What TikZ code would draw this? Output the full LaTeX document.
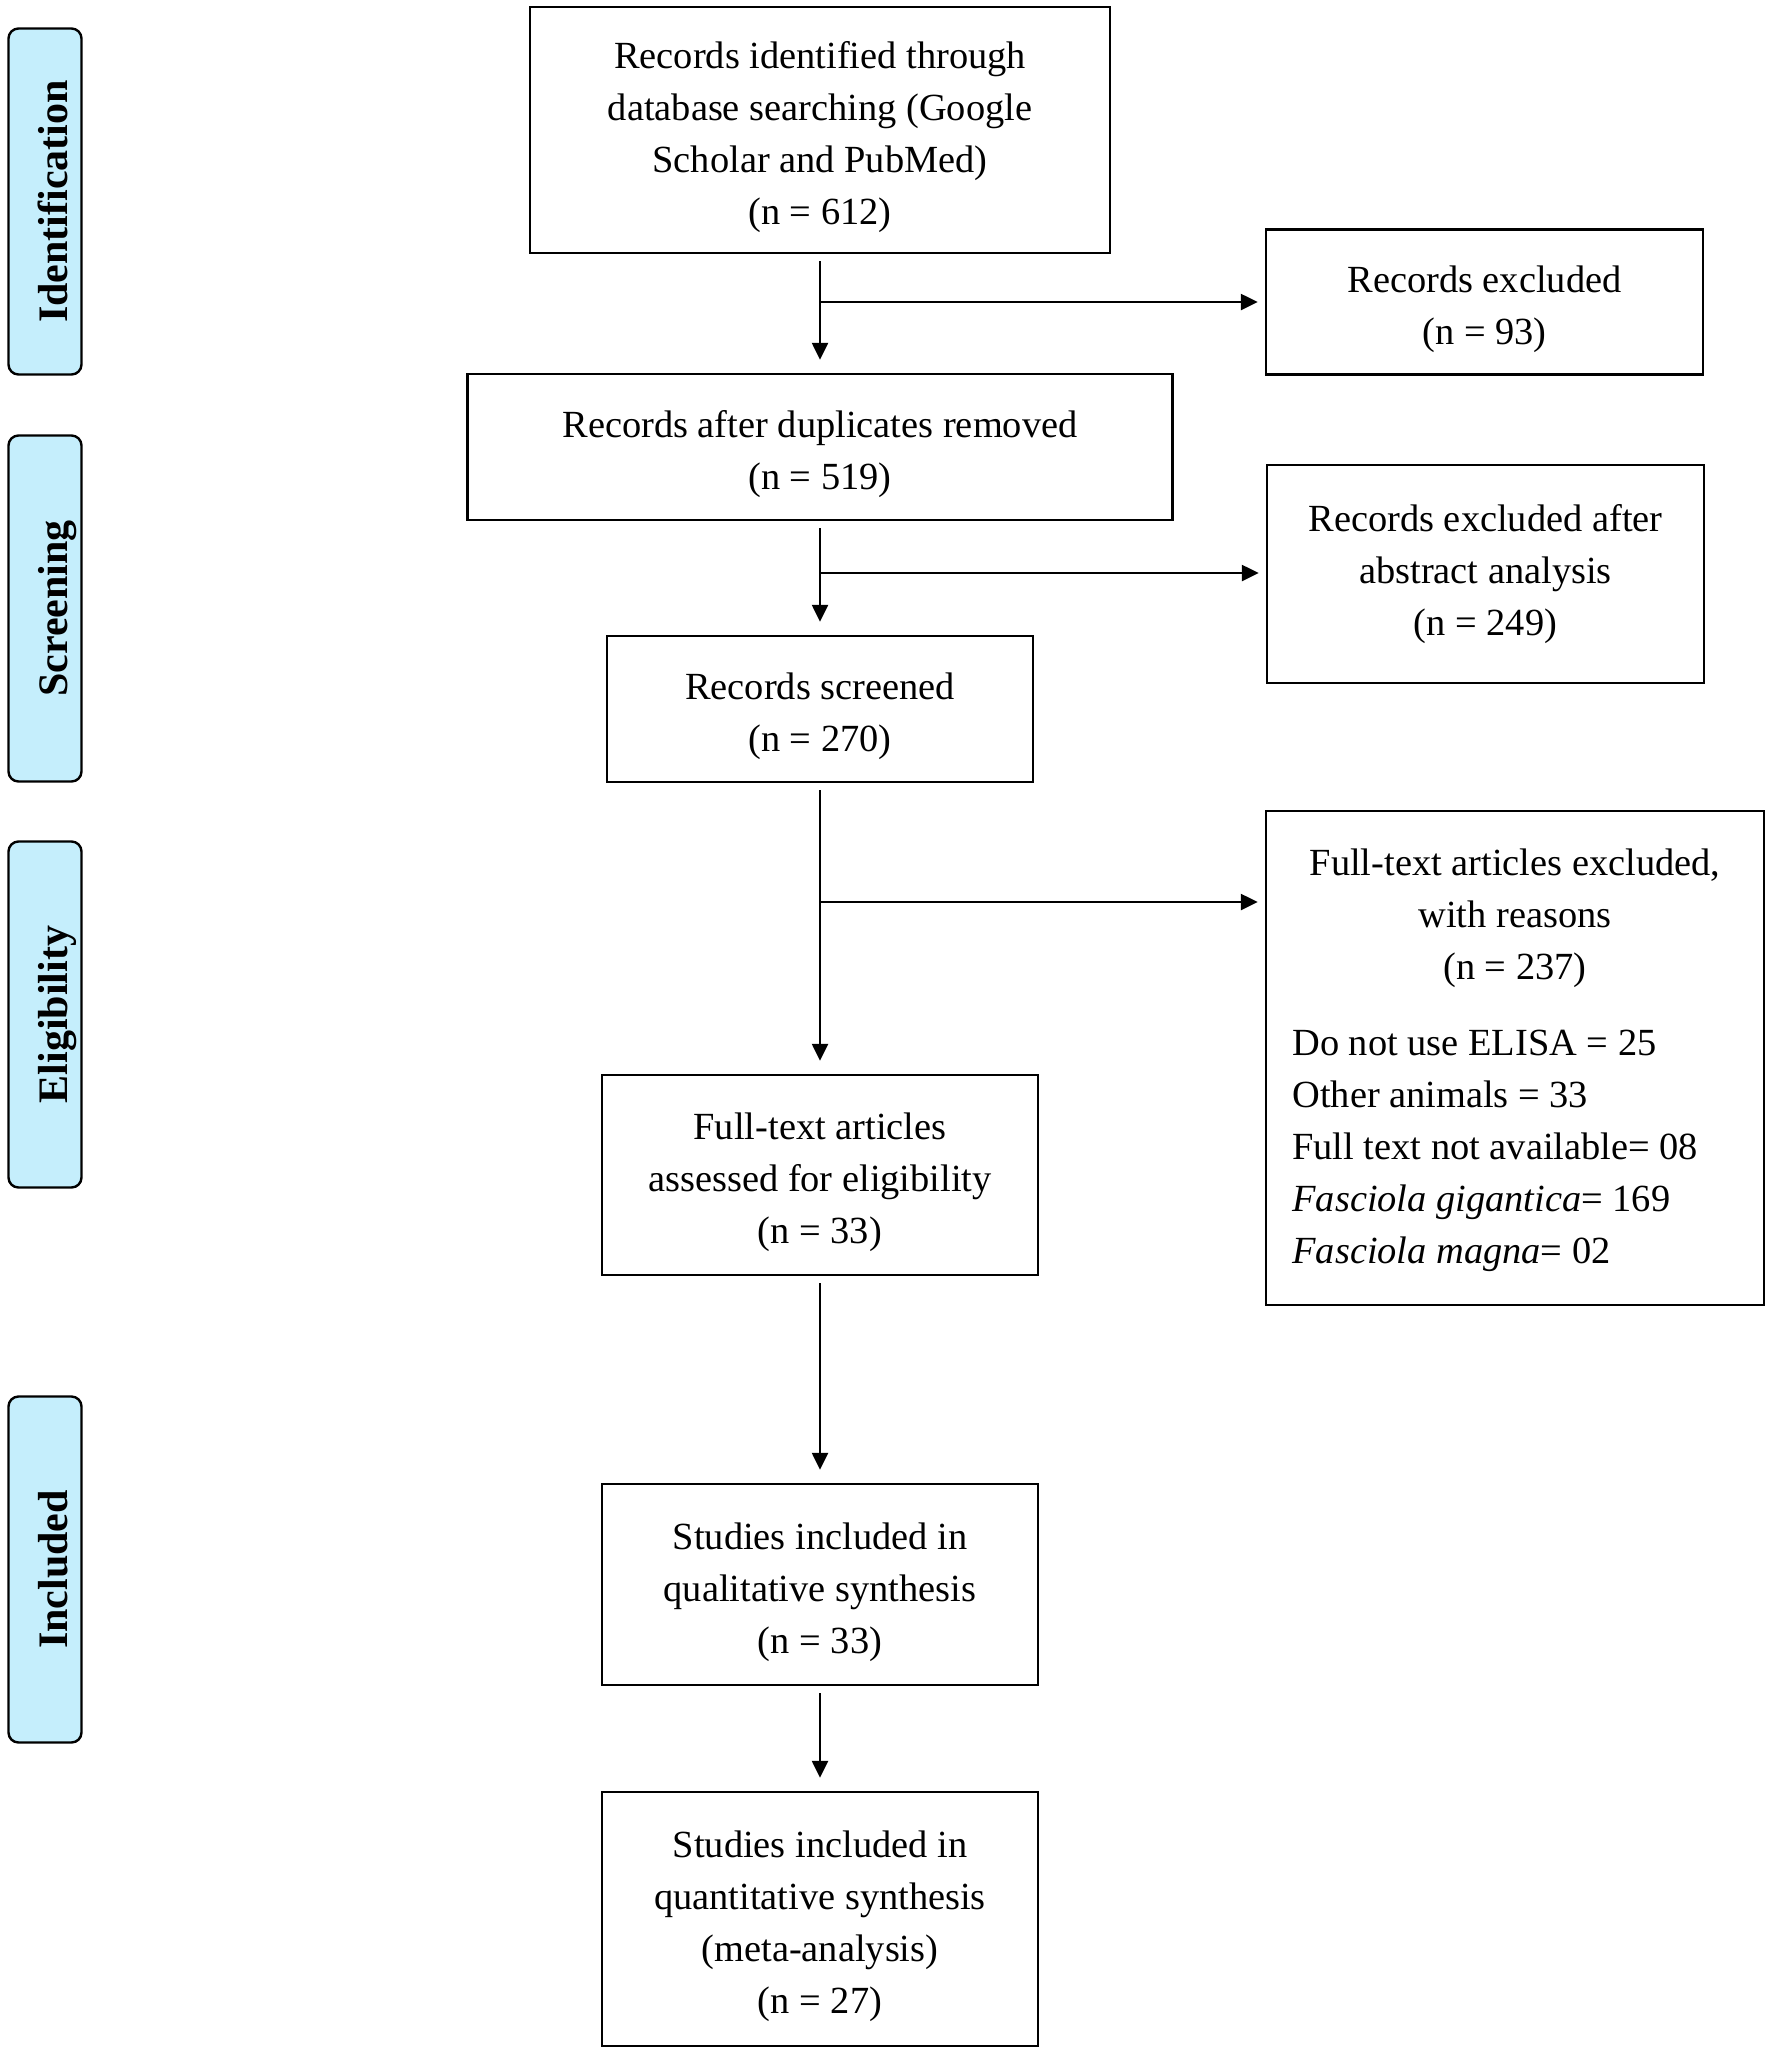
\documentclass[tikz,border=0pt]{standalone}
\usepackage{fontspec}
\setmainfont{Liberation Serif}
\usetikzlibrary{arrows.meta}
\definecolor{lblue}{RGB}{197,238,252}
\newcommand\txtfont{\fontsize{19.2}{26}\selectfont}
\newcommand\labfont{\fontsize{21}{23}\selectfont\bfseries}
\newcommand\tfix{\rule{0pt}{21pt}}
\begin{document}
\begin{tikzpicture}[x=0.5pt,y=-0.5pt,
  box/.style={draw, line width=1.2pt, inner sep=0pt, align=center, font=\txtfont},
  txt/.style={inner sep=0pt, font=\txtfont},
  lab/.style={draw, line width=1.2pt, fill=lblue, rounded corners=5pt, rotate=90,
    minimum width=173pt, minimum height=36.5pt, inner sep=0pt, font=\labfont,
    text height=23pt, text depth=0pt},
  arr/.style={line width=1.2pt, -{Triangle[length=8.5pt,width=8pt]},
    shorten <=3.5pt, shorten >=6.5pt},
  brn/.style={line width=1.2pt, -{Triangle[length=8.5pt,width=8pt]}, shorten >=3.5pt}]
\fill[white] (0,0) rectangle (1772,2053);
\useasboundingbox (0,0) rectangle (1772,2053);

% phase labels
\node[lab] (lid) at (45,201.5) {Identification};
\node[lab] (lsc) at (45,608.5) {Screening};
\node[lab] (lel) at (45,1014.5) {Eligibility};
\node[lab] (lin) at (45,1569.5) {Included};

% main boxes
\node[box, minimum width=290pt, minimum height=123pt] (b1) at (820,130)
  {\tfix Records identified through\\ database searching (Google\\ Scholar and PubMed)\\ (n = 612)};
\node[box, minimum width=352.5pt, minimum height=73pt] (b2) at (820,447)
  {\tfix Records after duplicates removed\\ (n = 519)};
\node[box, minimum width=213pt, minimum height=73pt] (b3) at (820,709)
  {\tfix Records screened\\ (n = 270)};
\node[box, minimum width=218pt, minimum height=100pt] (b4) at (820,1175)
  {\tfix Full-text articles\\ assessed for eligibility\\ (n = 33)};
\node[box, minimum width=218pt, minimum height=100.5pt] (b5) at (820,1584.5)
  {\tfix Studies included in\\ qualitative synthesis\\ (n = 33)};
\node[box, minimum width=218pt, minimum height=127pt] (b6) at (820,1919)
  {\tfix Studies included in\\ quantitative synthesis\\ (meta-analysis)\\ (n = 27)};

% exclusion boxes
\node[box, minimum width=218.5pt, minimum height=72.5pt] (e1) at (1484.5,302)
  {\tfix Records excluded\\ (n = 93)};
\node[box, minimum width=218.5pt, minimum height=109pt] (e2) at (1485.5,574)
  {Records excluded after\\ abstract analysis\\ (n = 249)\rule[-3pt]{0pt}{0pt}};
\node[box, minimum width=249pt, minimum height=247pt] (e3) at (1515,1058) {};
\node[txt, align=center] (e3a) at (1515,918)
  {Full-text articles excluded,\\ with reasons\\ (n = 237)};
\node[txt, align=left, anchor=west] (e3b) at (1292,1151)
  {Do not use ELISA = 25\\ Other animals = 33\\ Full text not available= 08\\
   \textit{Fasciola gigantica}= 169\\ \textit{Fasciola magna}= 02};

% connectors
\coordinate (j1) at (820,302);
\coordinate (j2) at (820,573);
\coordinate (j3) at (820,902);
\draw[arr] (b1) -- (b2);
\draw[arr] (b2) -- (b3);
\draw[arr] (b3) -- (b4);
\draw[arr] (b4) -- (b5);
\draw[arr] (b5) -- (b6);
\draw[brn] (j1) -- (j1 -| e1.west);
\draw[brn] (j2) -- (j2 -| e2.west);
\draw[brn] (j3) -- (j3 -| e3.west);
\end{tikzpicture}
\end{document}
